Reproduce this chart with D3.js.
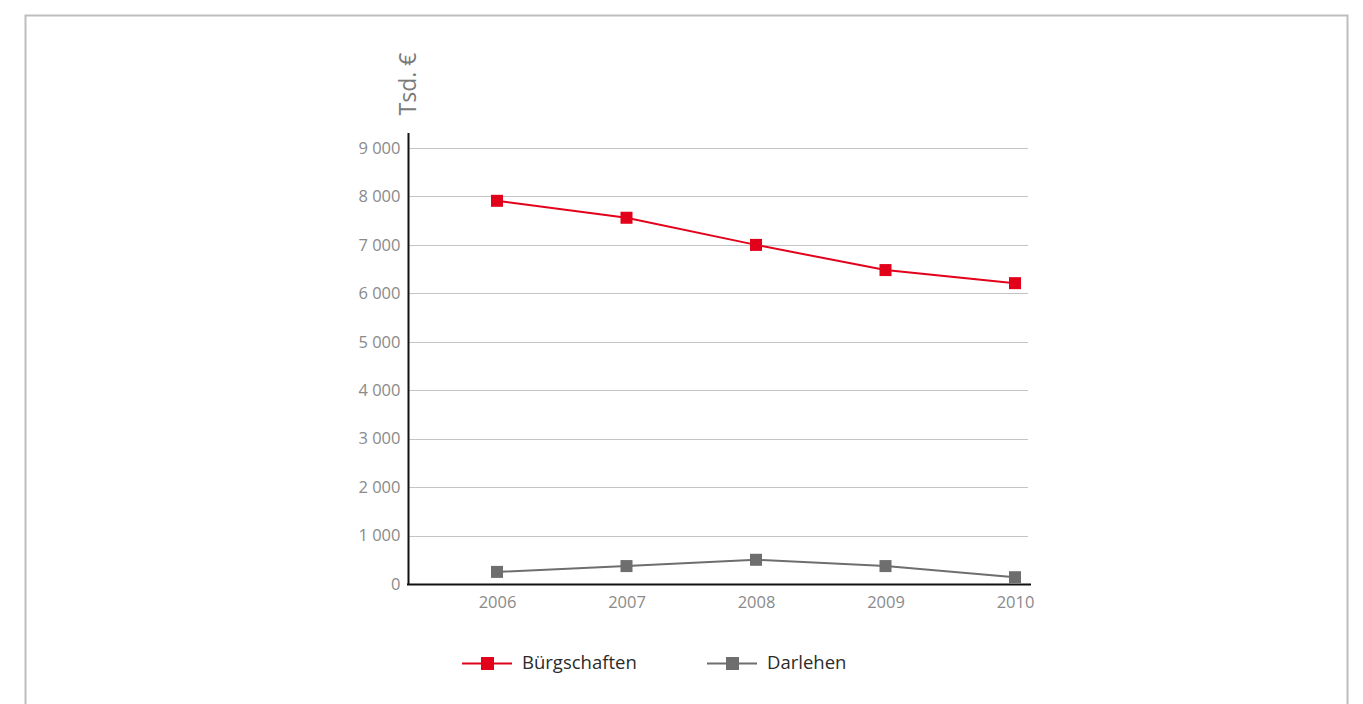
<!DOCTYPE html>
<html>
<head>
<meta charset="utf-8">
<script src="https://cdn.jsdelivr.net/npm/d3@7"></script>
<style>
  html, body { margin: 0; padding: 0; background: #fff; }
  svg { display: block; font-family: "Open Sans", "Noto Sans", sans-serif; }
</style>
</head>
<body>
<svg id="chart" width="1363" height="704"></svg>
<script>
// Years on the x axis
const years = ["2006", "2007", "2008", "2009", "2010"];
// Values in Tsd. €
const buergschaften = [7910, 7560, 7000, 6480, 6210];
const darlehen = [250, 370, 500, 370, 140];
// Y axis ticks
const yTicks = [0, 1000, 2000, 3000, 4000, 5000, 6000, 7000, 8000, 9000];

const seriesNames = ["Bürgschaften", "Darlehen"];
const seriesColors = ["#e2001a", "#6e6e6e"];

const FONT = '"Open Sans", "Noto Sans", sans-serif';
const svg = d3.select("#chart");

// outer frame
svg.append("path")
  .attr("d", "M25.5,720 V15.5 H1347.5 V720")
  .attr("fill", "none")
  .attr("stroke", "#bdbdbd")
  .attr("stroke-width", 2);

const x = d3.scalePoint().domain(years).range([497, 1015]);
const y = d3.scaleLinear().domain([0, 9000]).range([584, 148]);

// thousands separated by a space
const fmt = v => d3.format(",")(v).replace(/,/g, " ");

// gridlines
svg.append("g")
  .selectAll("line")
  .data(yTicks.filter(d => d > 0))
  .join("line")
  .attr("x1", 408).attr("x2", 1028)
  .attr("y1", d => Math.round(y(d)) + 0.5)
  .attr("y2", d => Math.round(y(d)) + 0.5)
  .attr("stroke", "#c4c4c4")
  .attr("stroke-width", 1);

// y axis
const yAxis = svg.append("g")
  .attr("transform", "translate(408.5,0)")
  .call(d3.axisLeft(y).tickValues(yTicks).tickSize(0).tickPadding(8).tickFormat(fmt));
yAxis.attr("font-family", FONT);
yAxis.select(".domain").remove();
yAxis.selectAll("text")
  .attr("fill", "#8a8a8a")
  .style("font-size", "16.5px");
svg.append("line")
  .attr("x1", 408.5).attr("x2", 408.5)
  .attr("y1", 133).attr("y2", 585)
  .attr("stroke", "#111").attr("stroke-width", 2);

// x axis
const xAxis = svg.append("g")
  .attr("transform", "translate(0,584)")
  .call(d3.axisBottom(x).tickSize(0).tickPadding(12));
xAxis.attr("font-family", FONT);
xAxis.select(".domain").remove();
xAxis.selectAll("text")
  .attr("fill", "#8a8a8a")
  .style("font-size", "16.5px");
svg.append("line")
  .attr("x1", 407).attr("x2", 1031)
  .attr("y1", 584.5).attr("y2", 584.5)
  .attr("stroke", "#111").attr("stroke-width", 2);

// y axis unit title
svg.append("text")
  .attr("transform", "translate(416,84) rotate(-90)")
  .attr("text-anchor", "middle")
  .attr("fill", "#7a7a7a")
  .style("font-size", "23px")
  .text("Tsd. €");

// series
const series = [buergschaften, darlehen];
const line = d3.line().x((d, i) => x(years[i])).y(d => y(d));
series.forEach((vals, s) => {
  svg.append("path")
    .datum(vals)
    .attr("d", line)
    .attr("fill", "none")
    .attr("stroke", seriesColors[s])
    .attr("stroke-width", 2);
  svg.append("g")
    .selectAll("rect")
    .data(vals)
    .join("rect")
    .attr("x", (d, i) => x(years[i]) - 6)
    .attr("y", d => y(d) - 6)
    .attr("width", 12).attr("height", 12)
    .attr("fill", seriesColors[s]);
});

// legend
const legendX = [462, 707];
seriesNames.forEach((name, s) => {
  const g = svg.append("g").attr("transform", `translate(${legendX[s]},663)`);
  g.append("line")
    .attr("x1", 0).attr("x2", 50).attr("y1", 0.5).attr("y2", 0.5)
    .attr("stroke", seriesColors[s]).attr("stroke-width", 2);
  g.append("rect")
    .attr("x", 19).attr("y", -6).attr("width", 13).attr("height", 13)
    .attr("fill", seriesColors[s]);
  g.append("text")
    .attr("x", 60).attr("y", 0)
    .attr("dy", "0.35em")
    .attr("fill", "#2b2b2b")
    .style("font-size", "18.5px")
    .text(name);
});
</script>
</body>
</html>
